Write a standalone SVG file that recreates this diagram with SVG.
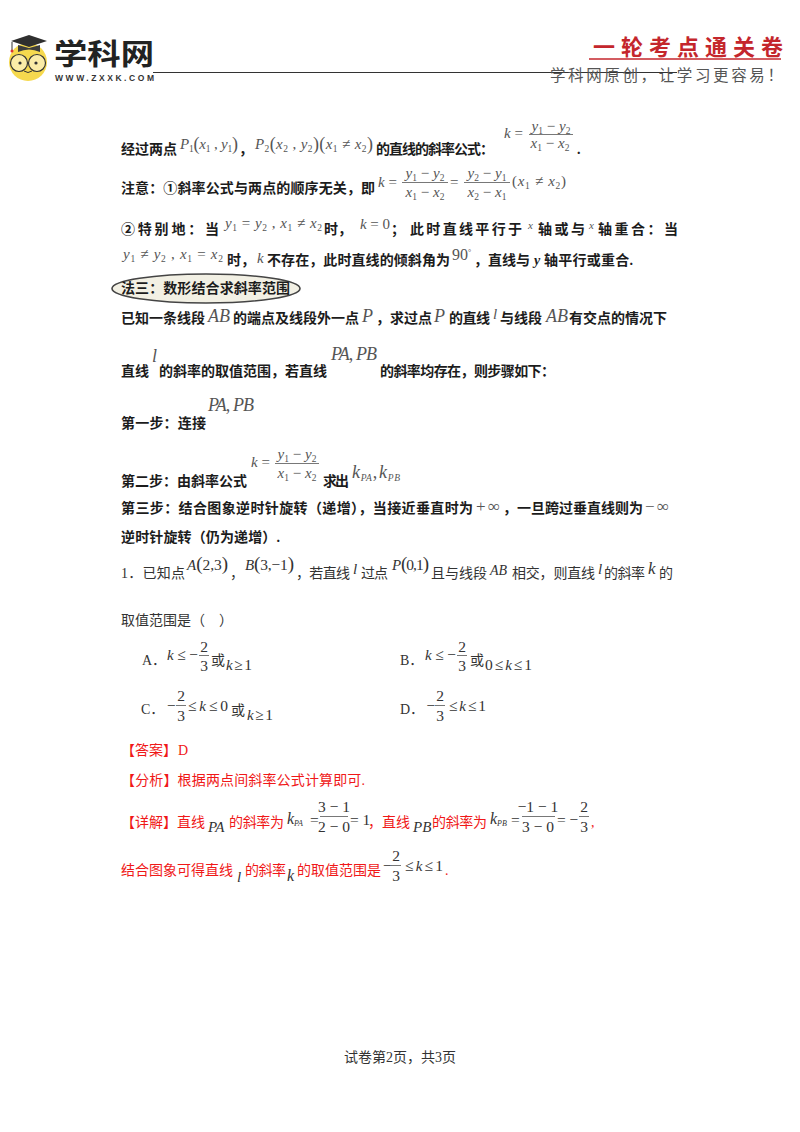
<svg xmlns="http://www.w3.org/2000/svg" width="800" height="1132" viewBox="0 0 800 1132">
<style>
text{white-space:pre}
.b{font:bold 14px "Liberation Serif","Noto Sans CJK SC",sans-serif;fill:#1c1c1c}
.r{font:14px "Liberation Serif","Noto Sans CJK SC",sans-serif;fill:#333}
.red{font:14px "Liberation Serif","Noto Sans CJK SC",sans-serif;fill:#f01818}
.m{font:italic 15px "Liberation Serif",serif;fill:#555}
.n{font:15px "Liberation Serif",serif;fill:#555}
.d{font:15.5px "Liberation Serif",serif;fill:#333}
.di{font:italic 15px "Liberation Serif",serif;fill:#333}
.c{text-anchor:middle}
.big{font-size:18px}
.s{font-size:9.5px}
.u{font-style:normal}
.f{stroke:#555;stroke-width:.8;fill:none}
</style>
<rect width="800" height="1132" fill="#fff"/>
<g id="header">
<circle cx="28" cy="62" r="19" fill="#f6d94e"/>
<path d="M11 41 L29 35 L47 41 L29 47Z" fill="#2f2f2f"/>
<path d="M18 45 V52 Q29 47 40 52 V45 L29 48Z" fill="#3d3d3d"/>
<path d="M12 42 V50" stroke="#333" stroke-width="1"/><circle cx="12" cy="51" r="1.5" fill="#d33"/>
<circle cx="19" cy="63" r="8.5" fill="#fff" fill-opacity=".5" stroke="#333" stroke-width="1.2"/>
<circle cx="37" cy="63" r="8.5" fill="#fff" fill-opacity=".5" stroke="#333" stroke-width="1.2"/>
<circle cx="20" cy="63" r="1.6" fill="#333"/><circle cx="36" cy="63" r="1.6" fill="#333"/>
<path d="M24 71 Q28 74 32 71" fill="none" stroke="#333"/>
<text x="54" y="65" textLength="100" lengthAdjust="spacingAndGlyphs" style="font:bold 29px 'Noto Sans CJK SC',sans-serif;fill:#222">学科网</text>
<text x="55" y="81" textLength="99" style="font:bold 8.5px 'Liberation Sans',sans-serif;fill:#333">WWW.ZXXK.COM</text>
<path d="M153 72.5H677" stroke="#333" stroke-width="1.2"/>
<text x="593" y="55" textLength="190" style="font:bold 22px 'Noto Sans CJK SC',sans-serif;fill:#c4262c">一轮考点通关卷</text>
<path d="M589 59H781" stroke="#c4262c" stroke-width="1.3"/>
<text x="550" y="81" textLength="233" style="font:15.5px 'Noto Sans CJK SC',sans-serif;fill:#555">学科网原创，让学习更容易！</text>
</g>

<g id="formula-lines">
<text class="b" x="121" y="154" textLength="56">经过两点</text>
<text class="m" x="180" y="149" textLength="58">P<tspan class="s u" dy="3">1</tspan><tspan class="big u" dy="-2">(</tspan><tspan dy="-1">x</tspan><tspan class="s u" dy="3">1</tspan><tspan class="u" dy="-3"> , </tspan>y<tspan class="s u" dy="3">1</tspan><tspan class="big u" dy="-2">)</tspan></text>
<text class="b" x="239" y="154">，</text>
<text class="m" x="255" y="149" textLength="118">P<tspan class="s u" dy="3">2</tspan><tspan class="big u" dy="-2">(</tspan><tspan dy="-1">x</tspan><tspan class="s u" dy="3">2</tspan><tspan class="u" dy="-3"> , </tspan>y<tspan class="s u" dy="3">2</tspan><tspan class="big u" dy="-2">)(</tspan><tspan dy="-1">x</tspan><tspan class="s u" dy="3">1</tspan><tspan class="u" dy="-3"> ≠ </tspan>x<tspan class="s u" dy="3">2</tspan><tspan class="big u" dy="-2">)</tspan></text>
<text class="b" x="376" y="154" textLength="118">的直线的斜率公式：</text>
<text class="m" x="504" y="138">k<tspan class="u"> =</tspan></text>
<text class="m c" x="551" y="131">y<tspan class="s u" dy="3">1</tspan><tspan class="u" dy="-3"> − </tspan>y<tspan class="s u" dy="3">2</tspan></text>
<path class="f" d="M529 134.5H573"/>
<text class="m c" x="550" y="148">x<tspan class="s u" dy="3">1</tspan><tspan class="u" dy="-3"> − </tspan>x<tspan class="s u" dy="3">2</tspan></text>
<text class="b" x="577" y="154">.</text>

<text class="b" x="121" y="193" textLength="254">注意：①斜率公式与两点的顺序无关，即</text>
<text class="m" x="378" y="187">k<tspan class="u"> =</tspan></text>
<text class="m c" x="425" y="178">y<tspan class="s u" dy="3">1</tspan><tspan class="u" dy="-3"> − </tspan>y<tspan class="s u" dy="3">2</tspan></text>
<path class="f" d="M402 182.5H448"/>
<text class="m c" x="425" y="197">x<tspan class="s u" dy="3">1</tspan><tspan class="u" dy="-3"> − </tspan>x<tspan class="s u" dy="3">2</tspan></text>
<text class="n" x="450" y="187">=</text>
<text class="m c" x="487" y="178">y<tspan class="s u" dy="3">2</tspan><tspan class="u" dy="-3"> − </tspan>y<tspan class="s u" dy="3">1</tspan></text>
<path class="f" d="M464 182.5H510"/>
<text class="m c" x="487" y="197">x<tspan class="s u" dy="3">2</tspan><tspan class="u" dy="-3"> − </tspan>x<tspan class="s u" dy="3">1</tspan></text>
<text class="m" x="512" y="186" textLength="54"><tspan class="u">(</tspan>x<tspan class="s u" dy="3">1</tspan><tspan class="u" dy="-3"> ≠ </tspan>x<tspan class="s u" dy="3">2</tspan><tspan class="u" dy="-3">)</tspan></text>

<text class="b" x="121" y="234" textLength="98">②特别地：当</text>
<text class="m" x="225" y="228" textLength="97">y<tspan class="s u" dy="3">1</tspan><tspan class="u" dy="-3"> = </tspan>y<tspan class="s u" dy="3">2</tspan><tspan class="u" dy="-3"> , </tspan>x<tspan class="s u" dy="3">1</tspan><tspan class="u" dy="-3"> ≠ </tspan>x<tspan class="s u" dy="3">2</tspan></text>
<text class="b" x="324" y="234" textLength="28">时，</text>
<text class="m" x="360" y="229" textLength="30">k<tspan class="u"> = 0</tspan></text>
<text class="b" x="391" y="234">；</text>
<text class="b" x="410" y="234" textLength="112">此时直线平行于</text>
<text class="m" x="528" y="229" style="font-size:11px">x</text>
<text class="b" x="538" y="234" textLength="47">轴或与</text>
<text class="m" x="589" y="229" style="font-size:11px">x</text>
<text class="b" x="598" y="234" textLength="80">轴重合：当</text>

<text class="m" x="123" y="259" textLength="100">y<tspan class="s u" dy="3">1</tspan><tspan class="u" dy="-3"> ≠ </tspan>y<tspan class="s u" dy="3">2</tspan><tspan class="u" dy="-3"> , </tspan>x<tspan class="s u" dy="3">1</tspan><tspan class="u" dy="-3"> = </tspan>x<tspan class="s u" dy="3">2</tspan></text>
<text class="b" x="227" y="265" textLength="28">时，</text>
<text class="m" x="257" y="263">k</text>
<text class="b" x="267" y="265" textLength="183">不存在，此时直线的倾斜角为</text>
<text class="n" x="452" y="260" style="font-size:16px">90<tspan dy="-5" style="font-size:8px">°</tspan></text>
<text class="b" x="474" y="265">，</text>
<text class="b" x="488" y="265" textLength="42">直线与</text>
<text class="b" x="534" y="265" style="font-style:italic">y</text>
<text class="b" x="544" y="265" textLength="89">轴平行或重合.</text>
</g>

<g id="method-three">
<ellipse cx="206" cy="288.5" rx="94" ry="14.5" fill="#f2f0e4" stroke="#444" stroke-width="1.6"/>
<text class="b" x="121" y="293" textLength="169">法三：数形结合求斜率范围</text>
</g>

<g id="steps">
<text class="b" x="121" y="323" textLength="84">已知一条线段</text>
<text class="m big" x="208" y="322">AB</text>
<text class="b" x="233" y="323" textLength="126">的端点及线段外一点</text>
<text class="m big" x="362" y="322">P</text>
<text class="b" x="376" y="323" textLength="56">，求过点</text>
<text class="m big" x="434" y="322">P</text>
<text class="b" x="449" y="323" textLength="41">的直线</text>
<text class="m" x="493" y="319">l</text>
<text class="b" x="500" y="323" textLength="42">与线段</text>
<text class="m big" x="546" y="322">AB</text>
<text class="b" x="569" y="323" textLength="98">有交点的情况下</text>

<text class="b" x="121" y="376" textLength="28">直线</text>
<text class="m big" x="152" y="362">l</text>
<text class="b" x="159" y="376" textLength="168">的斜率的取值范围，若直线</text>
<text class="m big" x="331" y="360" textLength="46">PA<tspan class="u">, </tspan>PB</text>
<text class="b" x="380" y="376" textLength="175">的斜率均存在，则步骤如下：</text>

<text class="b" x="121" y="428" textLength="85">第一步：连接</text>
<text class="m big" x="208" y="411" textLength="46">PA<tspan class="u">, </tspan>PB</text>

<text class="b" x="121" y="486" textLength="126">第二步：由斜率公式</text>
<text class="m" x="251" y="467">k<tspan class="u"> =</tspan></text>
<text class="m c" x="297" y="459">y<tspan class="s u" dy="3">1</tspan><tspan class="u" dy="-3"> − </tspan>y<tspan class="s u" dy="3">2</tspan></text>
<path class="f" d="M275 463.5H319"/>
<text class="m c" x="297" y="478">x<tspan class="s u" dy="3">1</tspan><tspan class="u" dy="-3"> − </tspan>x<tspan class="s u" dy="3">2</tspan></text>
<text class="b" x="323" y="486" textLength="26">求出</text>
<text class="m big" x="352" y="478" textLength="48">k<tspan class="s" dy="3">PA</tspan><tspan class="u" dy="-3">,</tspan><tspan dx="1">k</tspan><tspan class="s" dy="3">PB</tspan></text>

<text class="b" x="121" y="513" textLength="352">第三步：结合图象逆时针旋转（递增），当接近垂直时为</text>
<text class="n" x="476" y="512" textLength="24" style="font-size:17px">+ ∞</text>
<text class="b" x="503" y="513" textLength="140">，一旦跨过垂直线则为</text>
<text class="n" x="645" y="512" textLength="24" style="font-size:17px">− ∞</text>
<text class="b" x="121" y="542" textLength="159">逆时针旋转（仍为递增）.</text>
</g>

<g id="question">
<text class="r" x="121" y="578" textLength="64">1．已知点</text>
<text class="d" x="187" y="570" textLength="41"><tspan class="di">A</tspan><tspan style="font-size:19px">(</tspan>2,3<tspan style="font-size:19px">)</tspan></text>
<text class="r" x="230" y="578">，</text>
<text class="d" x="245" y="570" textLength="49"><tspan class="di">B</tspan><tspan style="font-size:19px">(</tspan>3,−1<tspan style="font-size:19px">)</tspan></text>
<text class="r" x="296" y="578" textLength="54">，若直线</text>
<text class="di" x="353" y="574">l</text>
<text class="r" x="361" y="578" textLength="27">过点</text>
<text class="di" x="392" y="570">P</text>
<text class="d" x="401" y="570" textLength="28"><tspan style="font-size:19px">(</tspan>0,1<tspan style="font-size:19px">)</tspan></text>
<text class="r" x="431" y="578" textLength="56">且与线段</text>
<text class="di" x="490" y="575" style="font-size:14px">AB</text>
<text class="r" x="512" y="578" textLength="83">相交，则直线</text>
<text class="di" x="598" y="574">l</text>
<text class="r" x="604" y="578" textLength="41">的斜率</text>
<text class="di" x="648" y="574" style="font-size:17px">k</text>
<text class="r" x="659" y="578" textLength="13">的</text>
<text class="r" x="121" y="625" textLength="112">取值范围是（　）</text>
</g>

<g id="option-a">
<text class="r" x="142" y="665">A．</text>
<text class="d" x="167" y="660" textLength="31"><tspan class="di">k</tspan> ≤ −</text>
<text class="d c" x="204" y="652">2</text><path class="f" d="M199 655.5H209"/><text class="d c" x="204" y="671">3</text>
<text class="r" x="211" y="665">或</text>
<text class="d" x="226" y="670" textLength="26"><tspan class="di">k</tspan> ≥ 1</text>
</g>
<g id="option-b">
<text class="r" x="400" y="665">B．</text>
<text class="d" x="425" y="660" textLength="31"><tspan class="di">k</tspan> ≤ −</text>
<text class="d c" x="462" y="652">2</text><path class="f" d="M457 655.5H467"/><text class="d c" x="462" y="671">3</text>
<text class="r" x="470" y="665">或</text>
<text class="d" x="485" y="670" textLength="47">0 ≤ <tspan class="di">k</tspan> ≤ 1</text>
</g>
<g id="option-c">
<text class="r" x="141" y="714">C．</text>
<text class="d" x="167" y="711">−</text>
<text class="d c" x="181" y="701">2</text><path class="f" d="M176 705.5H186"/><text class="d c" x="181" y="721">3</text>
<text class="d" x="188" y="711" textLength="40">≤ <tspan class="di">k</tspan> ≤ 0</text>
<text class="r" x="231" y="715">或</text>
<text class="d" x="247" y="720" textLength="26"><tspan class="di">k</tspan> ≥ 1</text>
</g>
<g id="option-d">
<text class="r" x="400" y="714">D．</text>
<text class="d" x="426.5" y="711">−</text>
<text class="d c" x="440" y="701">2</text><path class="f" d="M435 705.5H445"/><text class="d c" x="440" y="721">3</text>
<text class="d" x="449" y="711" textLength="37">≤ <tspan class="di">k</tspan> ≤ 1</text>
</g>

<g id="answer">
<text class="red" x="121" y="755" textLength="56">【答案】</text>
<text class="red" x="178" y="755">D</text>
<text class="red" x="121" y="785" textLength="244">【分析】根据两点间斜率公式计算即可.</text>
<text class="red" x="121" y="827" textLength="84">【详解】直线</text>
<text class="di" x="208" y="832" style="font-size:15px">PA</text>
<text class="red" x="229" y="827" textLength="55">的斜率为</text>
<text class="di" x="287" y="824" style="font-size:16px">k<tspan dy="2" style="font-size:8px">PA</tspan></text>
<text class="d" x="310" y="825">=</text>
<text class="d c" x="334" y="812">3 − 1</text><path class="f" d="M320 816.5H348"/><text class="d c" x="334" y="832">2 − 0</text>
<text class="d" x="350" y="825">= 1</text>
<text class="red" x="368" y="827" textLength="42">，直线</text>
<text class="di" x="413" y="832" style="font-size:15px">PB</text>
<text class="red" x="432" y="827" textLength="55">的斜率为</text>
<text class="di" x="490" y="824" style="font-size:16px">k<tspan dy="2" style="font-size:8px">PB</tspan></text>
<text class="d" x="511" y="825">=</text>
<text class="d c" x="538" y="812">−1 − 1</text><path class="f" d="M522 816.5H555"/><text class="d c" x="538" y="832">3 − 0</text>
<text class="d" x="557" y="825">= −</text>
<text class="d c" x="584" y="812">2</text><path class="f" d="M579 816.5H589"/><text class="d c" x="584" y="832">3</text>
<text class="red" x="591" y="827">,</text>
<text class="red" x="121" y="875" textLength="112">结合图象可得直线</text>
<text class="di" x="237" y="882">l</text>
<text class="red" x="245" y="875" textLength="41">的斜率</text>
<text class="di" x="287" y="881" style="font-size:16px">k</text>
<text class="red" x="297" y="875" textLength="84">的取值范围是</text>
<text class="d" x="383" y="871">−</text>
<text class="d c" x="396" y="861">2</text><path class="f" d="M391 865.5H401"/><text class="d c" x="396" y="881">3</text>
<text class="d" x="405" y="871" textLength="38">≤ <tspan class="di">k</tspan> ≤ 1</text>
<text class="red" x="445" y="875">.</text>
</g>

<g id="footer">
<text class="r" x="344" y="1062" textLength="112">试卷第2页，共3页</text>
</g>
</svg>
